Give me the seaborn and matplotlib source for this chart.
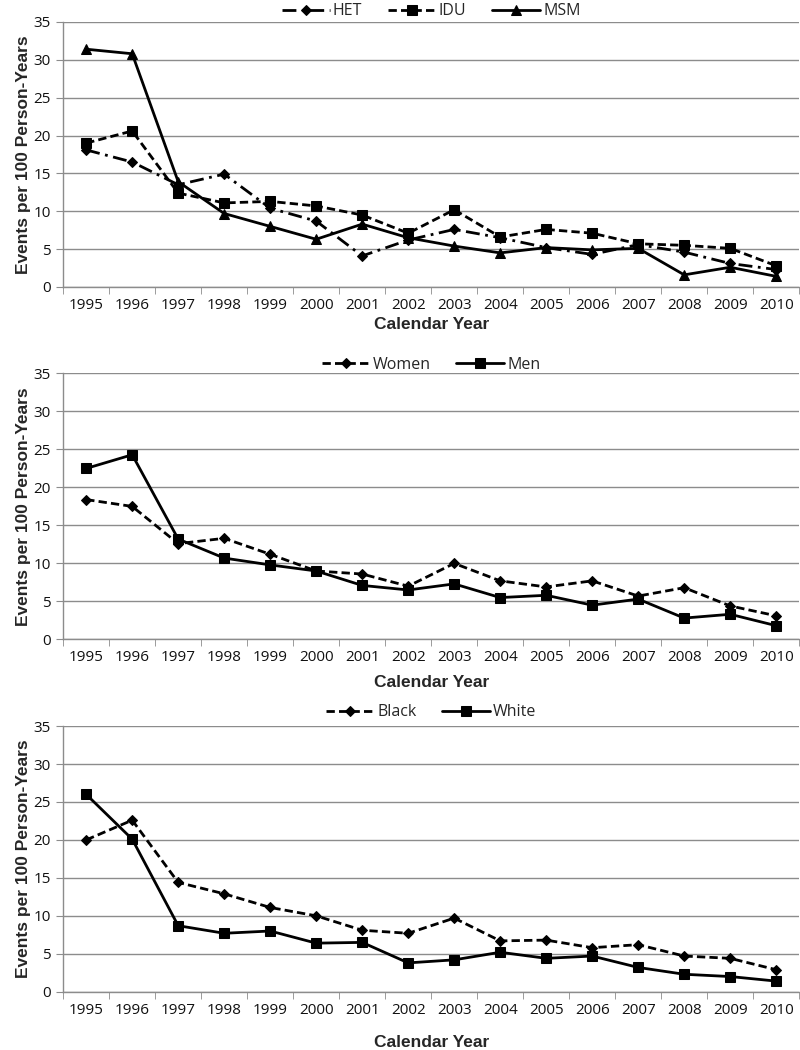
import numpy as np
import pandas as pd
import matplotlib
matplotlib.use("Agg")
import matplotlib.pyplot as plt
from matplotlib.ticker import FixedLocator
import seaborn as sns

# data
years = list(range(1995, 2011))

het = [18.1, 16.5, 13.5, 14.9, 10.4, 8.7, 4.1, 6.2, 7.6, 6.5, 5.2, 4.3, 5.6, 4.6, 3.1, 2.3]
idu = [19.0, 20.6, 12.4, 11.1, 11.3, 10.7, 9.5, 7.1, 10.2, 6.6, 7.6, 7.1, 5.7, 5.5, 5.1, 2.8]
msm = [31.4, 30.8, 13.9, 9.7, 8.0, 6.3, 8.3, 6.5, 5.4, 4.5, 5.2, 4.9, 5.1, 1.6, 2.6, 1.4]

women = [18.4, 17.5, 12.6, 13.3, 11.2, 9.0, 8.6, 7.0, 10.0, 7.7, 6.9, 7.7, 5.7, 6.8, 4.4, 3.1]
men = [22.5, 24.3, 13.2, 10.7, 9.8, 9.0, 7.1, 6.5, 7.3, 5.5, 5.8, 4.5, 5.3, 2.8, 3.3, 1.8]

black = [20.0, 22.6, 14.4, 12.9, 11.1, 10.0, 8.1, 7.7, 9.7, 6.7, 6.8, 5.8, 6.2, 4.7, 4.4, 2.9]
white = [26.0, 20.1, 8.7, 7.7, 8.0, 6.4, 6.5, 3.8, 4.2, 5.2, 4.4, 4.7, 3.2, 2.3, 2.0, 1.4]

sns.set_style("white")
plt.rcParams['font.family'] = ['Open Sans', 'DejaVu Sans']

fig = plt.figure(figsize=(8, 10.5), dpi=100)

# rect, series, xlabel pad, legend anchor
panels = [
    ([0.079, 0.7267, 0.920, 0.2524],
     [("HET", het, (0, (5, 2, 1, 2)), "D", 5),
      ("IDU", idu, (0, (3, 1.5)), "s", 7),
      ("MSM", msm, "-", "^", 7.5)], 3, 1.01),
    ([0.079, 0.3911, 0.920, 0.2532],
     [("Women", women, (0, (3, 1.5)), "D", 5),
      ("Men", men, "-", "s", 7.5)], 7, 1.003),
    ([0.079, 0.0555, 0.920, 0.2530],
     [("Black", black, (0, (3, 1.5)), "D", 5),
      ("White", white, "-", "s", 7.5)], 12, 1.022),
]

pos = np.arange(len(years))

for rect, series, xpad, anchor in panels:
    ax = fig.add_axes(rect)
    for name, vals, ls, mk, ms in series:
        df = pd.DataFrame({"x": pos, "y": vals})
        sns.lineplot(data=df, x="x", y="y", ax=ax, color="black", lw=2,
                     linestyle=ls, marker=mk, markersize=ms,
                     markeredgecolor="black", label=name)

    ax.set_xlim(-0.5, len(years) - 0.5)
    ax.set_ylim(0, 35)
    ax.set_yticks(range(0, 36, 5))
    ax.yaxis.grid(True, color="#8c8c8c", lw=1)
    ax.set_axisbelow(True)

    ax.set_xticks(pos)
    ax.set_xticklabels([str(y) for y in years], fontsize=11, color="#111111")
    ax.xaxis.set_minor_locator(FixedLocator(np.arange(-0.5, len(years), 1)))
    ax.tick_params(axis="x", which="major", length=0, pad=8)
    ax.tick_params(axis="x", which="minor", length=5, color="#8c8c8c",
                   direction="out", bottom=True)
    ax.tick_params(axis="y", length=5, color="#8c8c8c", direction="out",
                   left=True, labelsize=11, labelcolor="#111111", pad=4)

    for s in ["top", "right"]:
        ax.spines[s].set_visible(False)
    for s in ["left", "bottom"]:
        ax.spines[s].set_color("#8c8c8c")
        ax.spines[s].set_linewidth(1)

    ax.set_xlabel("Calendar Year", fontsize=12.5, fontweight="bold",
                  family=["Liberation Sans", "DejaVu Sans"], labelpad=xpad)
    ax.set_ylabel("Events per 100 Person-Years", fontsize=12.5, fontweight="bold",
                  family=["Liberation Sans", "DejaVu Sans"], labelpad=2)

    ax.legend(loc="lower center", bbox_to_anchor=(0.5, anchor), ncol=len(series),
              frameon=False, fontsize=11.5, handlelength=3.0, columnspacing=1.6,
              handletextpad=0.2, borderaxespad=0, borderpad=0)

fig.savefig("out.png", dpi=100)
